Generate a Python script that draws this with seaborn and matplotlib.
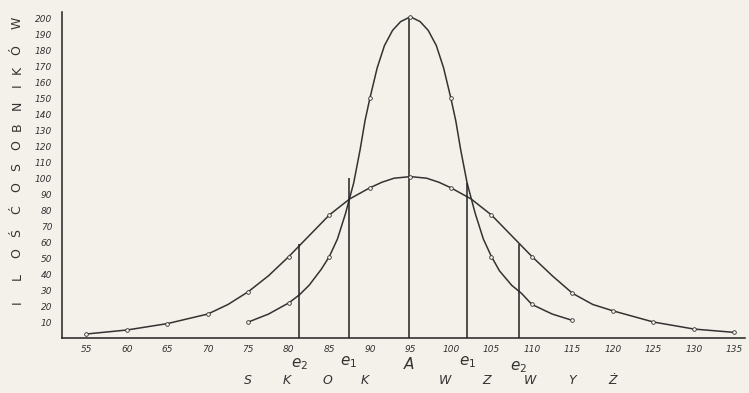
import matplotlib
matplotlib.use("Agg")
import matplotlib.pyplot as plt
import seaborn as sns
import pandas as pd

# --- data ---
wide_x = [55, 60, 65, 70, 72.5, 75, 77.5, 80, 82.5, 85, 87.5, 90, 91.5, 93, 95,
          97, 98.5, 100, 102.5, 105, 107.5, 110, 112.5, 115, 117.5, 120, 125, 130, 135]
wide_y = [2.5, 5, 9, 15, 21, 29, 39, 51, 64, 77, 87, 94, 97.5, 100, 101,
          100, 97.5, 94, 87, 77, 64, 51, 39, 28, 21, 17, 10, 5.6, 3.5]
wide_mark_x = [55, 60, 65, 70, 75, 80, 85, 90, 95, 100, 105, 110, 115, 120, 125, 130, 135]
wide_mark_y = [2.5, 5, 9, 15, 29, 51, 77, 94, 101, 94, 77, 51, 28, 17, 10, 5.6, 3.5]

narrow_x = [75, 77.5, 80, 81.3, 82.5, 84, 85, 86, 87, 88, 88.8, 89.4, 90, 90.9, 91.8,
            92.8, 93.8, 95, 96.2, 97.2, 98.2, 99.1, 100, 100.6, 101.2, 102, 103, 104,
            105, 106, 107.5, 108.7, 110, 112.5, 115]
narrow_y = [10, 15, 22, 27, 33, 43, 51, 62, 78, 97, 118, 136, 150, 169, 183,
            192.5, 198, 201, 198, 192.5, 183, 169, 150, 136, 118, 97, 78, 62,
            51, 42, 33, 28, 21, 15, 11]
narrow_mark_x = [75, 80, 85, 90, 95, 100, 105, 110, 115]
narrow_mark_y = [10, 22, 51, 150, 201, 150, 51, 21, 11]

mark_x = [81.3, 87.4, 94.8, 102.0, 108.4]
mark_top = [59, 100, 201, 97, 59]
mark_labels = [r"$e_2$", r"$e_1$", r"$A$", r"$e_1$", r"$e_2$"]
mark_label_dy = [-13, -12, -13, -12, -15]

x_ticks = [55, 60, 65, 70, 75, 80, 85, 90, 95, 100, 105, 110, 115, 120, 125, 130, 135]
y_ticks = [10, 20, 30, 40, 50, 60, 70, 80, 90, 100, 110, 120, 130, 140, 150,
           160, 170, 180, 190, 200]
y_title_letters = ["I", "L", "O", "Ś", "Ć", "O", "S", "O", "B", "N", "I", "K", "Ó", "W"]
y_title_pos = [302, 277, 253, 233, 210, 187, 167, 145, 127, 105, 85, 70, 50, 23]
x_title_letters = ["S", "K", "O", "K", "W", "Z", "W", "Y", "Ż"]
x_title_pos = [248, 287, 327, 365, 445, 487, 530, 572, 613]

bg = "#f4f1ea"
ink = "#333333"

sns.set_theme(style="white")
plt.rcParams["font.family"] = ["DejaVu Sans"]

fig = plt.figure(figsize=(7.49, 3.93), dpi=100, facecolor=bg)
ax = fig.add_axes([62 / 749, 55 / 393, 683 / 749, 326 / 393], facecolor=bg)

wide = pd.DataFrame({"x": wide_x, "y": wide_y})
narrow = pd.DataFrame({"x": narrow_x, "y": narrow_y})
sns.lineplot(data=wide, x="x", y="y", ax=ax, color=ink, lw=1.1, sort=False)
sns.lineplot(data=narrow, x="x", y="y", ax=ax, color=ink, lw=1.1, sort=False)
sns.scatterplot(x=wide_mark_x, y=wide_mark_y, ax=ax, s=7, facecolor=bg,
                edgecolor=ink, linewidth=0.6, zorder=3)
sns.scatterplot(x=narrow_mark_x, y=narrow_mark_y, ax=ax, s=7, facecolor=bg,
                edgecolor=ink, linewidth=0.6, zorder=3)

ax.vlines(mark_x, 0, mark_top, color="#222222", lw=1.1)
for mx, lab, dy in zip(mark_x, mark_labels, mark_label_dy):
    ax.annotate(lab, (mx, 0), xytext=(0, dy), textcoords="offset points",
                ha="center", va="top", fontsize=11, color=ink)

ax.set_xlim(52, 136.3)
ax.set_ylim(0, 204)
ax.set_xticks(x_ticks)
ax.set_yticks(y_ticks)
ax.set_xticklabels([str(t) for t in x_ticks], fontsize=6.5, style="italic", color=ink)
ax.set_yticklabels([str(t) for t in y_ticks], fontsize=6.5, style="italic", color=ink)
ax.tick_params(axis="both", direction="in", length=3, width=0.8, colors=ink,
               labelcolor=ink)
ax.tick_params(axis="y", pad=7)
ax.tick_params(axis="x", pad=5)
for s in ["top", "right"]:
    ax.spines[s].set_visible(False)
for s in ["left", "bottom"]:
    ax.spines[s].set_color("#222222")
    ax.spines[s].set_linewidth(1.1)
ax.set_xlabel("")
ax.set_ylabel("")

for letter, py in zip(y_title_letters, y_title_pos):
    fig.text(17 / 749, 1 - py / 393, letter, rotation=90, ha="center", va="center",
             fontsize=9, color=ink)
for letter, px in zip(x_title_letters, x_title_pos):
    fig.text(px / 749, 1 - 380 / 393, letter, ha="center", va="center",
             fontsize=9, color=ink, style="italic")

fig.savefig("out.png", dpi=100, facecolor=bg)
